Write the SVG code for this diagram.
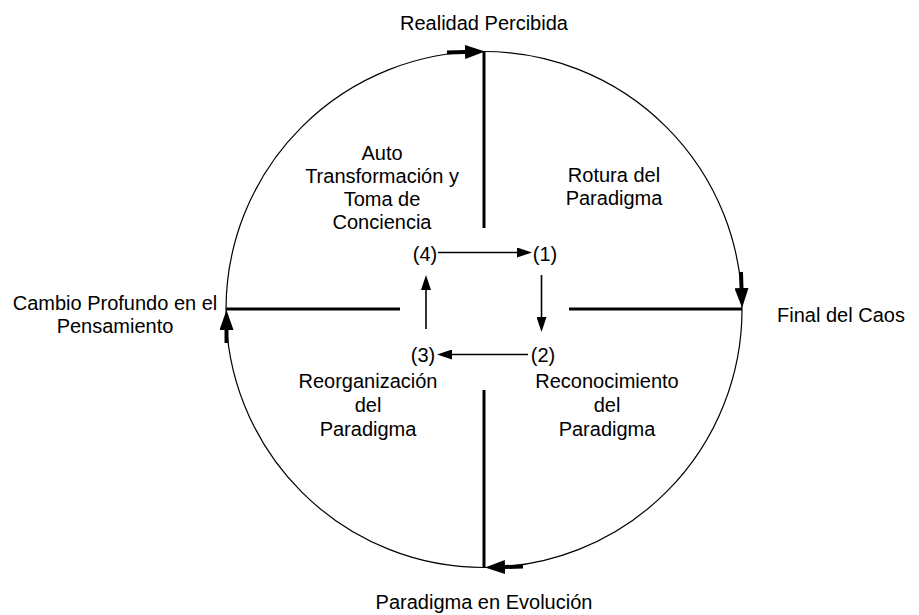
<svg xmlns="http://www.w3.org/2000/svg" width="919" height="615" viewBox="0 0 919 615">
  <style>
    text { font-family: "Liberation Sans", Arial, sans-serif; font-size: 20px; fill: #000; text-anchor: middle; }
    .ring { fill: none; stroke: #000; stroke-width: 1.2; }
    .axis { stroke: #000; stroke-width: 3; fill: none; }
    .flow { stroke: #000; stroke-width: 4; fill: none; marker-end: url(#bigHead); }
    .step { stroke: #000; stroke-width: 1.6; fill: none; marker-end: url(#smallHead); }
  </style>
  <defs>
    <marker id="bigHead" markerWidth="20" markerHeight="14" refX="0" refY="7" orient="auto" markerUnits="userSpaceOnUse">
      <path d="M0,0 L20,7 L0,14 z" fill="#000"/>
    </marker>
    <marker id="smallHead" markerWidth="15" markerHeight="10" refX="0" refY="5" orient="auto" markerUnits="userSpaceOnUse">
      <path d="M0,0 L15,5 L0,10 z" fill="#000"/>
    </marker>
  </defs>

  <rect width="919" height="615" fill="#fff"/>

  <g id="connectors">
    <circle class="ring" cx="484" cy="309.5" r="258"/>
    <!-- quadrant dividers -->
    <line class="axis" x1="484" y1="51" x2="484" y2="228"/>
    <line class="axis" x1="484" y1="390" x2="484" y2="567"/>
    <line class="axis" x1="226" y1="309" x2="400" y2="309"/>
    <line class="axis" x1="569" y1="309" x2="742" y2="309"/>
    <!-- clockwise flow on the ring -->
    <line class="flow" x1="447" y1="52.5" x2="465" y2="52"/>
    <line class="flow" x1="741" y1="272" x2="741.5" y2="288"/>
    <line class="flow" x1="226.5" y1="343" x2="226.5" y2="330"/>
    <line class="flow" x1="523" y1="566.5" x2="505" y2="567"/>
    <!-- inner cycle -->
    <line class="step" x1="438" y1="252.5" x2="517" y2="252.5"/>
    <line class="step" x1="541.5" y1="275" x2="541.5" y2="317"/>
    <line class="step" x1="528" y1="354.5" x2="452" y2="354.5"/>
    <line class="step" x1="426" y1="329" x2="426" y2="290"/>
  </g>

  <g id="realidad-percibida"><text x="484" y="30">Realidad Percibida</text></g>
  <g id="final-del-caos"><text x="841" y="322">Final del Caos</text></g>
  <g id="paradigma-en-evolucion"><text x="484" y="609">Paradigma en Evolución</text></g>
  <g id="cambio-profundo">
    <text x="115" y="310">Cambio Profundo en el</text>
    <text x="115" y="333">Pensamiento</text>
  </g>

  <g id="auto-transformacion">
    <text x="382" y="160">Auto</text>
    <text x="382" y="183">Transformación y</text>
    <text x="382" y="206">Toma de</text>
    <text x="382" y="229">Conciencia</text>
  </g>
  <g id="rotura-paradigma">
    <text x="614" y="182">Rotura del</text>
    <text x="614" y="205">Paradigma</text>
  </g>
  <g id="reorganizacion-paradigma">
    <text x="368" y="388">Reorganización</text>
    <text x="368" y="412">del</text>
    <text x="368" y="436">Paradigma</text>
  </g>
  <g id="reconocimiento-paradigma">
    <text x="607" y="388">Reconocimiento</text>
    <text x="607" y="412">del</text>
    <text x="607" y="436">Paradigma</text>
  </g>

  <g id="step-4"><text x="425" y="261">(4)</text></g>
  <g id="step-1"><text x="545" y="261">(1)</text></g>
  <g id="step-3"><text x="423" y="362">(3)</text></g>
  <g id="step-2"><text x="543" y="362">(2)</text></g>
</svg>
